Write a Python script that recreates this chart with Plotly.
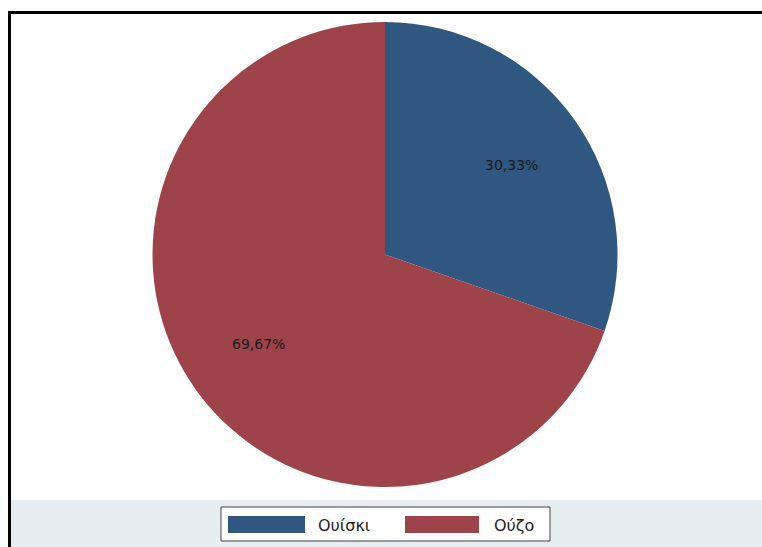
import math
import plotly.graph_objects as go

categories = ["Ουίσκι", "Ούζο"]
values = [30.33, 69.67]
colors = ["#2f5781", "#9e434a"]

W, H = 762, 547
cx, cy, r = 385, 254.5, 232.5

fig = go.Figure(go.Pie(
    labels=categories,
    values=values,
    sort=False,
    direction="clockwise",
    rotation=0,
    marker=dict(colors=colors, line=dict(width=0)),
    textinfo="none",
    hoverinfo="label+percent",
    showlegend=False,
    domain=dict(x=[(cx - r) / W, (cx + r) / W], y=[(H - cy - r) / H, (H - cy + r) / H]),
))

shapes = []
annotations = []
# background band at bottom
shapes.append(dict(type="rect", xref="paper", yref="paper", x0=11 / W, x1=1, y0=0, y1=(H - 500) / H,
                   fillcolor="#e7eef1", line=dict(width=0), layer="below"))
# frame lines
shapes.append(dict(type="line", xref="paper", yref="paper", x0=9.5 / W, x1=9.5 / W, y0=0, y1=(H - 11) / H,
                   line=dict(color="black", width=3)))
shapes.append(dict(type="line", xref="paper", yref="paper", x0=8 / W, x1=1, y0=(H - 12.5) / H, y1=(H - 12.5) / H,
                   line=dict(color="black", width=3)))

# slice labels placed along mid-angle
total = sum(values)
cum = 0
for v in values:
    mid = (cum + v / 2) / total * 2 * math.pi
    cum += v
    px = cx + 0.665 * r * math.sin(mid)
    py = cy - 0.665 * r * math.cos(mid)
    annotations.append(dict(x=px / W, y=(H - py) / H, xref="paper", yref="paper", showarrow=False,
                            xanchor="center", yanchor="middle",
                            text=f"{v / total * 100:.2f}%".replace(".", ","),
                            font=dict(family="DejaVu Sans", size=14, color="#1a1a1a")))

# legend box
lx0, lx1, ly0, ly1 = 221, 550, 507, 541
shapes.append(dict(type="rect", xref="paper", yref="paper", x0=lx0 / W, x1=lx1 / W,
                   y0=(H - ly1) / H, y1=(H - ly0) / H, fillcolor="white", line=dict(color="#444444", width=1)))
sw = [(228, 305, 316), (405, 479, 492)]
for (sx0, sx1, tx), c, lab in zip(sw, colors, categories):
    shapes.append(dict(type="rect", xref="paper", yref="paper", x0=sx0 / W, x1=sx1 / W,
                       y0=(H - 533) / H, y1=(H - 516) / H, fillcolor=c, line=dict(width=0)))
    annotations.append(dict(x=tx / W, y=(H - 525) / H, xref="paper", yref="paper", showarrow=False,
                            xanchor="left", yanchor="middle", text=lab,
                            font=dict(family="DejaVu Sans", size=16, color="#222222")))

fig.update_layout(
    width=W, height=H,
    margin=dict(l=0, r=0, t=0, b=0),
    paper_bgcolor="white",
    plot_bgcolor="white",
    shapes=shapes,
    annotations=annotations,
    separators=",.",
)

fig.write_html("out.html", config={"displayModeBar": False},
               post_script="document.body.style.margin='0';document.body.style.overflow='hidden';")
